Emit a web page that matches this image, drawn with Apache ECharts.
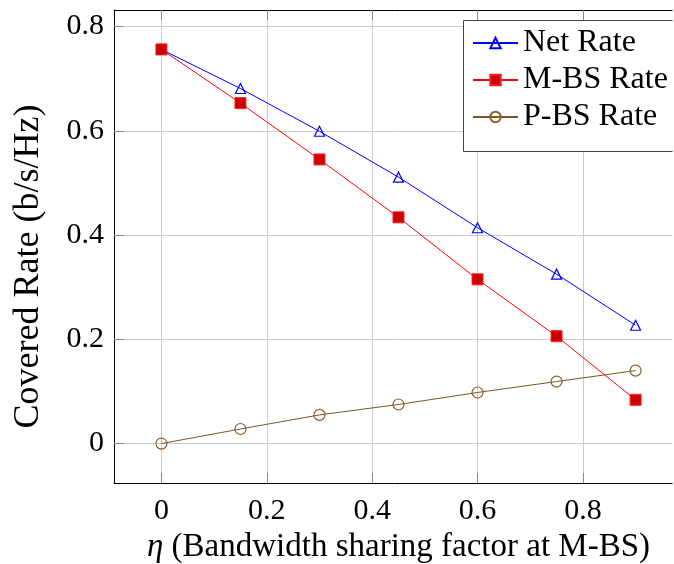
<!DOCTYPE html>
<html>
<head>
<meta charset="utf-8">
<script src="https://cdn.jsdelivr.net/npm/echarts@6/dist/echarts.min.js"></script>
<style>
  html, body { margin: 0; padding: 0; background: #fff; }
  #chart { width: 674px; height: 564px; }
</style>
</head>
<body>
<div id="chart"></div>
<script>
// Bandwidth sharing factor at the macro BS
const eta = [0, 0.15, 0.3, 0.45, 0.6, 0.75, 0.9];
// Covered rates (b/s/Hz)
const netRate = [0.756, 0.681, 0.599, 0.511, 0.414, 0.325, 0.227];
const mbsRate = [0.756, 0.653, 0.545, 0.434, 0.315, 0.206, 0.084];
const pbsRate = [0, 0.028, 0.055, 0.075, 0.098, 0.119, 0.140];
// Tick positions
const xTicks = [0, 0.2, 0.4, 0.6, 0.8];
const yTicks = [0, 0.2, 0.4, 0.6, 0.8];

const FONT = 'Liberation Serif';
const pair = (xs, ys) => xs.map((x, i) => [x, ys[i]]);

const chart = echarts.init(document.getElementById('chart'), null, { renderer: 'canvas' });

const tickStyle = { show: true, inside: true, length: 10, lineStyle: { color: '#8a8a8a', width: 1 } };
const axisLineStyle = { show: true, onZero: false, lineStyle: { color: '#000', width: 1 } };

chart.setOption({
  animation: false,
  backgroundColor: '#fff',
  grid: {
    left: 114, top: 10, width: 569, height: 473,
    outerBoundsMode: 'none',
    containLabel: false,
    show: false
  },
  graphic: [{
    // legend frame, running past the right edge of the canvas
    type: 'rect',
    z: 5,
    shape: { x: 463.5, y: 20.5, width: 260, height: 131 },
    style: { fill: '#fff', stroke: '#444', lineWidth: 1 }
  }, {
    // the plot box is open on the right: keep the canvas edge clear
    type: 'rect',
    z: 100,
    silent: true,
    shape: { x: 672.6, y: 0, width: 10, height: 564 },
    style: { fill: '#fff' }
  }],
  legend: {
    orient: 'vertical',
    left: 463, top: 20,
    padding: [7, 30, 20, 9],
    borderWidth: 0,
    backgroundColor: 'transparent',
    z: 6,
    itemWidth: 45, itemHeight: 13, itemGap: 5,
    textStyle: { fontFamily: FONT, fontSize: 32, color: '#000' },
    data: ['Net Rate', 'M-BS Rate', 'P-BS Rate']
  },
  xAxis: [{
    type: 'value',
    min: -0.09, max: 0.99,
    position: 'bottom',
    axisLine: axisLineStyle,
    axisTick: Object.assign({ customValues: xTicks }, tickStyle),
    axisLabel: {
      customValues: xTicks,
      fontFamily: FONT, fontSize: 30, color: '#000', margin: 13,
      formatter: v => String(v)
    },
    splitLine: { show: true, lineStyle: { color: '#cbcbcb', width: 1 } },
    name: '{i|η} (Bandwidth sharing factor at M-BS)',
    nameLocation: 'middle',
    nameGap: 47,
    nameTextStyle: {
      fontFamily: FONT, fontSize: 33, color: '#000',
      rich: { i: { fontFamily: FONT, fontStyle: 'italic', fontSize: 33, color: '#000' } }
    }
  }, {
    type: 'value',
    min: -0.09, max: 0.99,
    position: 'top',
    axisLine: axisLineStyle,
    axisTick: Object.assign({ customValues: xTicks }, tickStyle),
    axisLabel: { show: false },
    splitLine: { show: false }
  }],
  yAxis: [{
    type: 'value',
    min: -0.0756, max: 0.8316,
    position: 'left',
    axisLine: axisLineStyle,
    axisTick: Object.assign({ customValues: yTicks }, tickStyle),
    axisLabel: {
      customValues: yTicks,
      fontFamily: FONT, fontSize: 30, color: '#000', margin: 10,
      formatter: v => String(v)
    },
    splitLine: { show: true, lineStyle: { color: '#cbcbcb', width: 1 } },
    name: 'Covered Rate (b/s/Hz)',
    nameLocation: 'middle',
    nameGap: 67,
    nameTextStyle: { fontFamily: FONT, fontSize: 36, color: '#000', padding: [0, 40, 0, 0] }
  }],
  series: [{
    name: 'Net Rate',
    type: 'line',
    data: pair(eta, netRate),
    symbol: 'triangle', symbolSize: 10,
    lineStyle: { color: '#0000ff', width: 1 },
    itemStyle: { color: 'rgba(255,255,255,0)', borderColor: '#0000ff', borderWidth: 1.2 },
    z: 3
  }, {
    name: 'M-BS Rate',
    type: 'line',
    data: pair(eta, mbsRate),
    symbol: 'rect', symbolSize: 11,
    lineStyle: { color: '#ff0000', width: 1 },
    itemStyle: { color: '#cc0000', borderColor: '#ff2020', borderWidth: 1 },
    z: 4
  }, {
    name: 'P-BS Rate',
    type: 'line',
    data: pair(eta, pbsRate),
    symbol: 'circle', symbolSize: 11,
    lineStyle: { color: '#7f5427', width: 1 },
    itemStyle: { color: 'rgba(255,255,255,0)', borderColor: '#8c5e2e', borderWidth: 1.2 },
    z: 3
  }]
});
</script>
</body>
</html>
